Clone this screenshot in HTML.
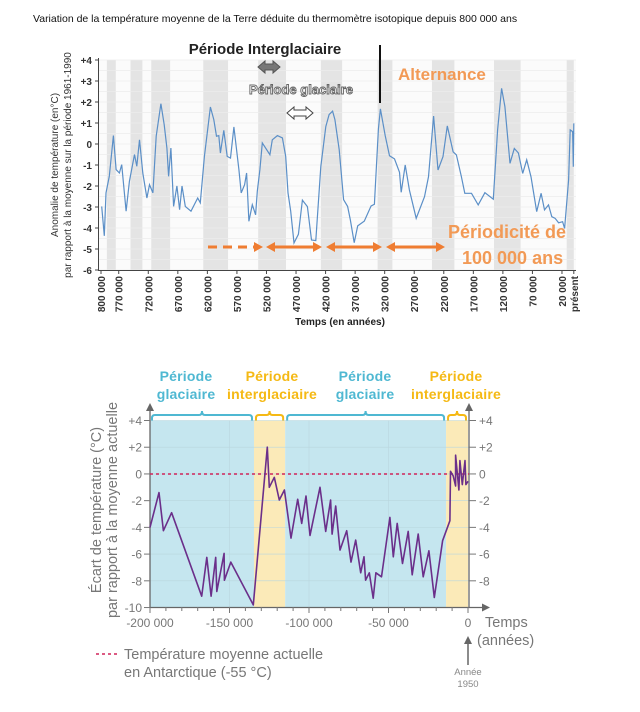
<!DOCTYPE html>
<html><head><meta charset="utf-8"><style>
html,body{margin:0;padding:0;background:#fff;width:640px;height:712px;overflow:hidden}
svg{display:block;font-family:"Liberation Sans",sans-serif}
</style></head><body>
<svg id="s" width="640" height="712" viewBox="0 0 640 712">
<text x="33" y="22" font-size="10.5" fill="#111">Variation de la température moyenne de la Terre déduite du thermomètre isotopique depuis 800 000 ans</text>
<g id="top"></g>
<g id="bot"></g>
</svg>
<script>
// ---------- Top chart data ----------
const topYears=[798800,794400,791500,785900,779100,774500,768900,764900,757500,751900,743400,739400,734900,729200,722400,718000,712200,706600,698600,693000,688500,685700,681700,677200,671500,667000,662900,657300,647700,636400,631900,625100,614900,609200,604600,600700,597900,592200,586500,580900,575200,566700,562700,557100,553700,549700,544000,538400,535500,531100,527000,514200,510100,501600,493100,487500,483600,479000,473400,466000,459200,450700,443900,436600,428100,419600,414000,408200,404300,397000,389500,382700,378200,371500,365700,354400,343000,337400,330600,327200,319200,311900,303400,294900,292100,285300,278100,266700,252600,245800,237300,229800,221300,214000,204300,198700,190200,184500,173100,161800,150500,136200,128900,122100,116500,108000,100600,93800,86500,79700,72400,62700,55400,49600,42800,37200,31600,25800,19000,15600,8800,6100,2000,800,0];
const topTemps=[-2.97,-4.37,-2.33,-1.54,0.4,-1.22,-1.38,-0.98,-3.2,-1.78,-0.5,-1.06,0.2,-1.38,-2.57,-1.94,-2.33,0.37,1.92,0.92,-0.19,-1.54,-0.19,-2.97,-2.0,-3.13,-2.0,-2.97,-3.2,-2.57,-2.8,-0.59,1.76,1.16,0.37,0.4,-0.43,0.65,-0.59,-0.67,0.81,-1.22,-2.33,-1.94,-1.38,-3.68,-2.89,-3.37,-2.25,-1.22,0.05,-0.51,0.2,0.4,0.29,-0.59,-2.33,-3.2,-4.71,-4.3,-2.67,-2.98,-4.57,-4.6,-1.08,0.83,1.4,1.56,1.16,-0.27,-2.65,-2.97,-3.6,-4.7,-3.9,-3.67,-2.95,-2.87,0.71,1.67,0.4,-0.56,-0.71,-1.35,-2.3,-1.0,-2.19,-3.54,-2.51,-1.56,1.33,-1.24,-0.6,0.86,-0.37,-0.52,-1.56,-2.35,-2.35,-2.9,-2.32,-2.63,0.67,2.65,1.78,-0.92,-0.21,-0.43,-1.4,-0.75,-1.56,-3.22,-2.35,-3.14,-2.9,-3.46,-3.54,-3.75,-3.7,-4.02,-1.71,0.67,0.59,-1.08,0.98];
const topYTicks=[4,3,2,1,0,-1,-2,-3,-4,-5,-6];
const topXTicks=[800000,770000,720000,670000,620000,570000,520000,470000,420000,370000,320000,270000,220000,170000,120000,70000,20000,0];
const topBands=[[790000,775000],[750000,730000],[715000,683000],[627000,585000],[534000,487000],[428000,392000],[332000,307000],[240000,202000],[135000,90000],[12000,0]];
// ---------- Bottom chart data ----------
const botYears=[-200000,-194340,-191600,-186400,-167500,-164300,-161600,-158700,-158000,-153400,-153200,-149200,-135000,-126200,-125000,-121800,-118700,-115500,-111300,-107100,-104600,-101900,-99400,-93100,-89500,-86400,-85500,-83200,-80500,-76300,-73600,-70600,-67500,-65400,-64400,-62100,-59600,-57900,-54400,-49100,-47000,-44500,-41200,-37600,-35100,-31300,-28200,-24600,-21200,-16000,-11400,-11000,-9300,-7800,-7800,-5700,-5100,-3600,-1900,-1300,0];
const botTemps=[-4,-1.4,-4.25,-2.9,-9.15,-6.25,-9.15,-6.25,-8.8,-5.95,-7.95,-6.6,-9.8,2.0,-1.0,-0.25,-1.95,-1.2,-4.8,-1.9,-3.7,-1.65,-4.6,-1.0,-4.3,-1.95,-4.5,-2.4,-5.7,-4.25,-6.6,-4.95,-7.4,-6.2,-7.95,-7.4,-9.3,-7.4,-7.7,-3.25,-6.2,-3.7,-6.7,-4.3,-7.55,-4.5,-7.7,-5.75,-9.25,-5.0,-3.5,0.2,-0.15,-0.9,1.4,-1.2,1.0,-0.8,1.0,-0.8,-0.55];
const botYTicks=[4,2,0,-2,-4,-6,-8,-10];
const botRightTicks=[4,2,0,-2,-4,-6,-8];
const botXTicks=[-200000,-150000,-100000,-50000,0];
const botXLabels=["-200 000","-150 000","-100 000","-50 000","0"];
const botPeriods=[["glaciaire",-200000,-134600],["interglaciaire",-134600,-115000],["glaciaire",-115000,-13800],["interglaciaire",-13800,0]];
const headerCenters=[186,272,365,456];

const NS="http://www.w3.org/2000/svg";
function mk(p,t,a,txt){const e=document.createElementNS(NS,t);for(const k in a)e.setAttribute(k,a[k]);if(txt!==undefined)e.textContent=txt;p.appendChild(e);return e;}

// ---- Top chart ----
const T=document.getElementById('top');
const tx=y=>101+(800000-y)*0.000591;
const ty=v=>144-v*21;
mk(T,'rect',{x:99,y:60,width:477,height:210,fill:'#fbfbfb'});
topBands.forEach(b=>{const r=mk(T,'rect',{x:tx(b[0]),y:60,width:tx(b[1])-tx(b[0]),height:210,fill:'#e4e4e4'});

});
for(let v=4;v>=-6;v-=0.5){mk(T,'line',{x1:99,x2:576,y1:ty(v),y2:ty(v),stroke:'#ececec','stroke-width':0.7});}
mk(T,'line',{x1:98.5,x2:98.5,y1:58,y2:271,stroke:'#444','stroke-width':1});
mk(T,'line',{x1:98,x2:576,y1:270.5,y2:270.5,stroke:'#444','stroke-width':1});
topYTicks.forEach(v=>{const l=mk(T,'text',{x:92,y:ty(v)+4,'font-size':10,'font-weight':'bold','text-anchor':'end',fill:'#333'},(v>0?'+':'')+v);


mk(T,'line',{x1:95,x2:99,y1:ty(v),y2:ty(v),stroke:'#444'});});
topXTicks.forEach(y=>{const x=tx(y);mk(T,'line',{x1:x,x2:x,y1:270,y2:274,stroke:'#444'});
const l=mk(T,'text',{x:0,y:0,'font-size':10,'font-weight':'bold','text-anchor':'end',fill:'#333',transform:`translate(${x+4},${276}) rotate(-90)`},y===0?'présent':y.toLocaleString('fr-FR').replace(/\s/g,' '));

});
mk(T,'text',{x:340,y:325,'font-size':10,'font-weight':'bold','text-anchor':'middle',fill:'#222',},'Temps (en années)');
mk(T,'text',{'font-size':10,'text-anchor':'middle',fill:'#333',transform:'translate(58,165) rotate(-90)',},'Anomalie de température (en°C)');
mk(T,'text',{'font-size':10,'text-anchor':'middle',fill:'#333',transform:'translate(71,165) rotate(-90)'},'par rapport à la moyenne sur la période 1961-1990');
let d='';topYears.forEach((y,i)=>{d+=(i?'L':'M')+tx(y).toFixed(1)+','+ty(topTemps[i]).toFixed(1);});
mk(T,'path',{d:d,fill:'none',stroke:'#5b8fc7','stroke-width':1.2,});
// annotations
mk(T,'text',{x:265,y:54,'font-size':15,'font-weight':'bold','text-anchor':'middle',fill:'#222',},'Période Interglaciaire');
mk(T,'path',{d:'M258,67 l7,-6 v3 h8 v-3 l7,6 l-7,6 v-3 h-8 v3z',fill:'#777',stroke:'#555',});
mk(T,'text',{x:301,y:94,'font-size':13,'font-weight':'bold','text-anchor':'middle',fill:'#fff',stroke:'#666','stroke-width':0.9,},'Période glaciaire');
mk(T,'path',{d:'M287,113 l7,-6 v3 h12 v-3 l7,6 l-7,6 v-3 h-12 v3z',fill:'#fff',stroke:'#444',});
mk(T,'line',{x1:380,x2:380,y1:45,y2:103,stroke:'#111','stroke-width':2});
mk(T,'text',{x:398,y:80,'font-size':17,'font-weight':'bold',fill:'#f29a56',},'Alternance');
mk(T,'text',{x:448,y:238,'font-size':18,'font-weight':'bold',fill:'#f29a56',},'Périodicité  de');
mk(T,'text',{x:462,y:264,'font-size':18,'font-weight':'bold',fill:'#f29a56'},'100 000 ans');
const oc='#ef7d32';const ay=247;
mk(T,'line',{x1:208,x2:255,y1:ay,y2:ay,stroke:oc,'stroke-width':3,'stroke-dasharray':'9,6'});
mk(T,'path',{d:`M263,${ay} l-9,-5 v10z`,fill:oc});
[[266,322],[326,382],[386,445]].forEach((a)=>{
 const g=mk(T,'g',{});
 
 
 mk(g,'line',{x1:a[0]+6,x2:a[1]-6,y1:ay,y2:ay,stroke:oc,'stroke-width':3});
 mk(g,'path',{d:`M${a[0]},${ay} l9,-5 v10z`,fill:oc});
 mk(g,'path',{d:`M${a[1]},${ay} l-9,-5 v10z`,fill:oc});
});

// ---- Bottom chart ----
const B=document.getElementById('bot');
const bx=y=>150+(y+200000)*318/200000;
const by=v=>420.5+(4-v)*13.36;
const gcol='#4fb8d2',ycol='#f5b914';
botPeriods.forEach((p,i)=>{
 const r=mk(B,'rect',{x:bx(p[1]),y:by(4),width:bx(p[2])-bx(p[1]),height:by(-10)-by(4),fill:p[0]==='glaciaire'?'#c5e6ef':'#fbeab8'});
 
 
 const c=p[0]==='glaciaire'?gcol:ycol;const x1=bx(p[1])+2,x2=bx(p[2])-2,m=(x1+x2)/2,yy=415;
 mk(B,'path',{d:`M${x1},${yy+6} v-3 q0,-3 3,-3 H${m-3} q3,0 3,-4 q0,4 3,4 H${x2-3} q3,0 3,3 v3`,fill:'none',stroke:c,'stroke-width':2});
 const lines=['Période',p[0]];
 const cx=headerCenters[i];
 lines.forEach((t,j)=>{const l=mk(B,'text',{x:cx,y:381+j*18,'font-size':14,'font-weight':'bold','text-anchor':'middle',fill:c,'letter-spacing':'0.2'},t);
 
 });
});
botYTicks.forEach(v=>{if(v>-10)mk(B,'line',{x1:150,x2:470,y1:by(v),y2:by(v),stroke:'#b9d6de','stroke-width':0.6});});
botXTicks.slice(1,4).forEach(y=>mk(B,'line',{x1:bx(y),x2:bx(y),y1:by(4),y2:by(-10),stroke:'#b9d6de','stroke-width':0.6}));
// axes
mk(B,'line',{x1:150,x2:150,y1:410,y2:608,stroke:'#666','stroke-width':1.3});
mk(B,'path',{d:'M150,403 l-4,8 h8z',fill:'#666'});
mk(B,'line',{x1:469,x2:469,y1:410,y2:608,stroke:'#666','stroke-width':1.3});
mk(B,'path',{d:'M469,403 l-4,8 h8z',fill:'#666'});
mk(B,'line',{x1:150,x2:482,y1:607.5,y2:607.5,stroke:'#666','stroke-width':1.3});
mk(B,'path',{d:'M490,607.5 l-8,-4 v8z',fill:'#666'});
botYTicks.forEach(v=>{mk(B,'line',{x1:144,x2:150,y1:by(v),y2:by(v),stroke:'#777'});
 const l=mk(B,'text',{x:142,y:by(v)+4.5,'font-size':12,'text-anchor':'end',fill:'#777'},(v>0?'+':'')+v);
 
 });
botRightTicks.forEach(v=>{mk(B,'line',{x1:469,x2:476,y1:by(v),y2:by(v),stroke:'#777'});
 const l=mk(B,'text',{x:479,y:by(v)+4.5,'font-size':12,fill:'#777'},(v>0?'+':'')+v);
 
 });
for(let y=-200000;y<=0;y+=10000){mk(B,'line',{x1:bx(y),x2:bx(y),y1:607,y2:y%50000===0?613:611,stroke:'#777'});}
botXTicks.forEach((y,i)=>{const l=mk(B,'text',{x:bx(y),y:627,'font-size':12,'text-anchor':'middle',fill:'#777'},botXLabels[i]);
 
 });
mk(B,'text',{x:485,y:627,'font-size':14.5,fill:'#777',},'Temps');
mk(B,'text',{x:477,y:645,'font-size':14.5,fill:'#777'},'(années)');
mk(B,'line',{x1:468,x2:468,y1:665,y2:642,stroke:'#666','stroke-width':1.5});
mk(B,'path',{d:'M468,636 l-4,8 h8z',fill:'#666'});
mk(B,'text',{x:468,y:675,'font-size':9.5,'text-anchor':'middle',fill:'#888'},'Année');
mk(B,'text',{x:468,y:687,'font-size':9.5,'text-anchor':'middle',fill:'#888'},'1950');
mk(B,'text',{'font-size':14.5,'text-anchor':'middle',fill:'#777',transform:'translate(101,510) rotate(-90)',},'Écart de température (°C)');
mk(B,'text',{'font-size':14.5,'text-anchor':'middle',fill:'#777',transform:'translate(117,510) rotate(-90)'},'par rapport à la moyenne actuelle');
// reference line
mk(B,'line',{x1:150,x2:469,y1:by(0),y2:by(0),stroke:'#d0245a','stroke-width':1.5,'stroke-dasharray':'3,3',});
let d2='';botYears.forEach((y,i)=>{d2+=(i?'L':'M')+bx(y).toFixed(1)+','+by(botTemps[i]).toFixed(1);});
mk(B,'path',{d:d2,fill:'none',stroke:'#6b2f8a','stroke-width':1.6,'stroke-linejoin':'round',});
// legend
const lg=mk(B,'g',{});


mk(lg,'line',{x1:96,x2:118,y1:654,y2:654,stroke:'#d0245a','stroke-width':1.5,'stroke-dasharray':'3,3'});
mk(lg,'text',{x:124,y:659,'font-size':14.5,fill:'#777'},'Température moyenne actuelle');
mk(lg,'text',{x:124,y:677,'font-size':14.5,fill:'#777'},'en Antarctique (-55 °C)');
</script>
</body></html>
